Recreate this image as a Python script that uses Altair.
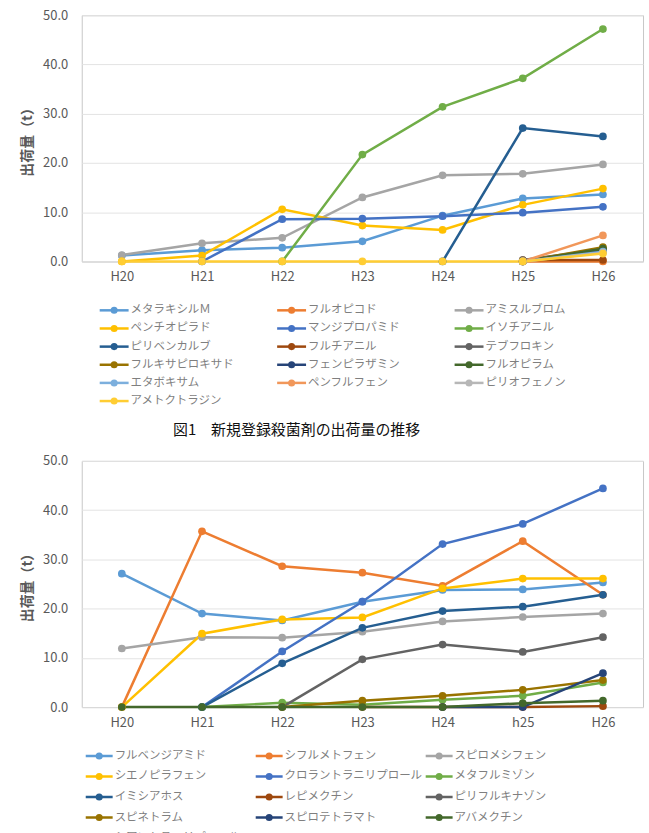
import altair as alt
import pandas as pd

FONT = "Noto Sans CJK JP"
GRAY = "#595959"

# ---------------- data ----------------
years_top = ["H20", "H21", "H22", "H23", "H24", "H25", "H26"]
years_bot = ["H20", "H21", "H22", "H23", "H24", "h25", "H26"]

names_top = ["メタラキシルＭ", "フルオピコド", "アミスルブロム", "ペンチオピラド", "マンジプロパミド",
             "イソチアニル", "ピリベンカルブ", "フルチアニル", "テブフロキン", "フルキサピロキサド",
             "フェンピラザミン", "フルオピラム", "エタボキサム", "ペンフルフェン", "ピリオフェノン",
             "アメトクトラジン"]
N = None
values_top = [
    [1.2, 2.3, 2.8, 4.1, 9.3, 12.8, 13.6],
    [N, N, N, N, N, 0.0, 0.0],
    [1.3, 3.7, 4.8, 13.0, 17.5, 17.8, 19.7],
    [0.0, 1.2, 10.6, 7.3, 6.4, 11.5, 14.8],
    [N, 0.0, 8.6, 8.7, 9.2, 9.9, 11.1],
    [N, N, 0.0, 21.7, 31.4, 37.2, 47.2],
    [N, N, N, N, 0.0, 27.1, 25.4],
    [N, N, N, N, N, 0.3, 0.3],
    [N, N, N, N, N, 0.3, 2.5],
    [N, N, N, N, N, 0.0, 2.9],
    [N, N, N, N, N, 0.0, 2.3],
    [N, N, N, N, N, 0.0, 2.6],
    [N, N, N, N, N, 0.0, 2.0],
    [N, N, N, N, N, 0.0, 5.3],
    [N, N, N, N, N, 0.0, 1.8],
    [0.0, 0.0, 0.0, 0.0, 0.0, 0.0, 1.6],
]

names_bot = ["フルベンジアミド", "シフルメトフェン", "スピロメシフェン", "シエノピラフェン",
             "クロラントラニリプロール", "メタフルミゾン", "イミシアホス", "レピメクチン",
             "ピリフルキナゾン", "スピネトラム", "スピロテトラマト", "アバメクチン",
             "シアントラニリプロール"]
values_bot = [
    [27.1, 19.0, 17.6, 21.4, 23.8, 23.9, 25.3],
    [0.0, 35.7, 28.6, 27.3, 24.6, 33.7, 22.8],
    [11.9, 14.2, 14.1, 15.3, 17.4, 18.3, 19.0],
    [0.0, 14.9, 17.8, 18.2, 24.1, 26.1, 26.1],
    [N, 0.0, 11.3, 21.4, 33.1, 37.2, 44.4],
    [N, 0.0, 0.9, 0.5, 1.5, 2.3, 5.0],
    [N, 0.0, 8.9, 16.1, 19.5, 20.4, 22.8],
    [N, N, N, 0.0, 0.0, 0.0, 0.2],
    [N, N, 0.0, 9.7, 12.7, 11.2, 14.2],
    [N, N, 0.0, 1.3, 2.3, 3.5, 5.5],
    [N, N, N, N, 0.0, 0.0, 6.9],
    [0.0, 0.0, 0.0, 0.0, 0.0, 0.8, 1.3],
    [N, N, N, N, N, N, N],
]

palette = ["#5B9BD5", "#ED7D31", "#A5A5A5", "#FFC000", "#4472C4", "#70AD47",
           "#255E91", "#9E480E", "#636363", "#997300", "#264478", "#43682B",
           "#7CAFDD", "#F1975A", "#B7B7B7", "#FFCD33"]

caption = "図1　新規登録殺菌剤の出荷量の推移"
y_title = "出荷量（t）"
y_ticks = [0, 10, 20, 30, 40, 50]

PLOT_W = 563
PLOT_H = 247


def long_df(names, years, values):
    rows = []
    for i, (n, vals) in enumerate(zip(names, values)):
        for yr, v in zip(years, vals):
            if v is not None:
                rows.append({"name": n, "year": yr, "value": v, "idx": i})
    return pd.DataFrame(rows)


def line_chart(names, years, values, title=None):
    df = long_df(names, years, values)
    cols = palette[:len(names)]
    x = alt.X("year:O", sort=years,
              scale=alt.Scale(type="point", domain=years, padding=0.5),
              axis=alt.Axis(title=None, labelAngle=0, ticks=False, grid=False,
                            domainColor="#D9D9D9", labelColor=GRAY, labelFont=FONT,
                            labelFontSize=13, labelPadding=9))
    y = alt.Y("value:Q", scale=alt.Scale(domain=[0, 50], nice=False),
              axis=alt.Axis(title=y_title, values=y_ticks, format=".1f", ticks=False,
                            domain=False, grid=True, gridColor="#E3E3E3",
                            labelColor=GRAY, labelFont=FONT, labelFontSize=13,
                            labelPadding=14, titleColor=GRAY, titleFont=FONT,
                            titleFontSize=14, titleFontWeight="bold", titlePadding=8))
    color = alt.Color("name:N", scale=alt.Scale(domain=names, range=cols), legend=None)
    base = alt.Chart(df)
    lines = base.mark_line(strokeWidth=2.5).encode(x=x, y=y, color=color, detail="name:N")
    pts = base.mark_circle(size=60, opacity=1).encode(x=x, y=y, color=color)
    props = dict(width=PLOT_W, height=PLOT_H,
                 view={"stroke": "#C8C8C8", "strokeWidth": 1})
    ch = alt.layer(lines, pts).properties(**props)
    if title is not None:
        ch = ch.properties(title=title)
    return ch


def legend_chart(names, x0, colstep, symlen, rowstep, off, height, clip=False, fsize=11.5):
    n = len(names)
    df = pd.DataFrame({
        "name": names,
        "col": [i % 3 for i in range(n)],
        "row": [i // 3 for i in range(n)],
    })
    df["x1"] = df["col"]
    df["x2"] = df["col"] + symlen / colstep
    df["xm"] = df["col"] + symlen / colstep / 2
    df["xt"] = df["col"] + (symlen + 2) / colstep
    xs = alt.Scale(domain=[-x0 / colstep, (PLOT_W - x0) / colstep], nice=False, zero=False)
    ys = alt.Scale(domain=[(height - off) / rowstep, -off / rowstep], nice=False, zero=False)
    color = alt.Color("name:N", scale=alt.Scale(domain=names, range=palette[:n]), legend=None)
    base = alt.Chart(df)
    rule = base.mark_rule(strokeWidth=2.5, clip=clip).encode(
        x=alt.X("x1:Q", scale=xs, axis=None), x2="x2:Q",
        y=alt.Y("row:Q", scale=ys, axis=None), color=color)
    dot = base.mark_circle(size=50, opacity=1, clip=clip).encode(
        x=alt.X("xm:Q", scale=xs, axis=None),
        y=alt.Y("row:Q", scale=ys, axis=None), color=color)
    txt = base.mark_text(align="left", baseline="middle", font=FONT, fontSize=fsize,
                         color="#7F7F7F", clip=clip).encode(
        x=alt.X("xt:Q", scale=xs, axis=None),
        y=alt.Y("row:Q", scale=ys, axis=None), text="name:N")
    return alt.layer(rule, dot, txt).properties(
        width=PLOT_W, height=height, view={"stroke": "transparent"})


top = line_chart(names_top, years_top, values_top)
leg1 = legend_chart(names_top, x0=18, colstep=178, symlen=29, rowstep=18.2, off=25, height=136)
bottom = line_chart(names_bot, years_bot, values_bot,
                    title=alt.TitleParams(caption, orient="top", anchor="middle", frame="group",
                                          dx=-66, offset=17, font=FONT, fontSize=15,
                                          fontWeight="normal", color="#111111"))
leg2 = legend_chart(names_bot, x0=4, colstep=170.5, symlen=27, rowstep=20.6, off=25,
                    height=104, clip=True, fsize=11.5)

chart = alt.vconcat(top, leg1, bottom, leg2, spacing=0).properties(
    padding={"left": 20, "top": 7, "right": 5, "bottom": 0}
).configure(background="white").configure_view(stroke="transparent")

chart.save("out.html", embed_options={"renderer": "svg", "actions": False})
